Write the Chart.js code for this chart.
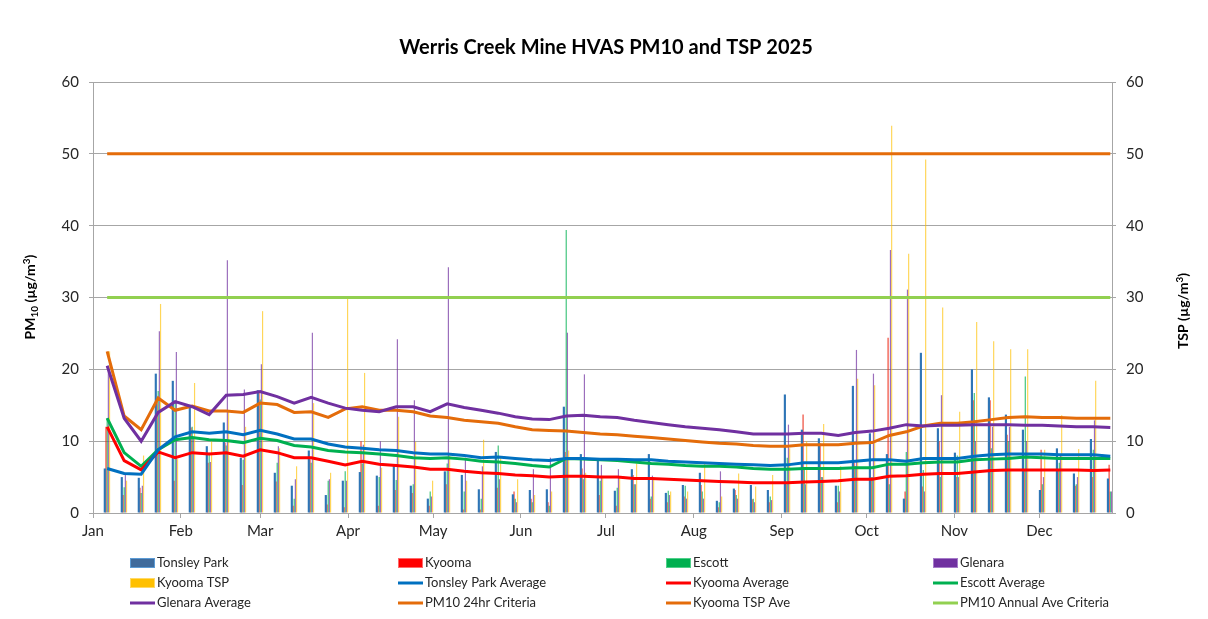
<!DOCTYPE html>
<html>
<head>
<meta charset="utf-8">
<script src="https://cdn.jsdelivr.net/npm/chart.js@4.4.1/dist/chart.umd.min.js"></script>
<style>
  html, body { margin: 0; padding: 0; background: #fff; }
  #wrap { width: 1208px; height: 619px; position: relative; }
</style>
</head>
<body>
<div id="wrap"><canvas id="chart"></canvas></div>
<script>
// Sample days (6-day HVAS cycle)
const sampleDates = [
  '2025-01-06', '2025-01-12', '2025-01-18', '2025-01-24', '2025-01-30', '2025-02-05', '2025-02-11', '2025-02-17', '2025-02-23', '2025-03-01',
  '2025-03-07', '2025-03-13', '2025-03-19', '2025-03-25', '2025-03-31', '2025-04-06', '2025-04-12', '2025-04-18', '2025-04-24', '2025-04-30',
  '2025-05-06', '2025-05-12', '2025-05-18', '2025-05-24', '2025-05-30', '2025-06-05', '2025-06-11', '2025-06-17', '2025-06-23', '2025-06-29',
  '2025-07-05', '2025-07-11', '2025-07-17', '2025-07-23', '2025-07-29', '2025-08-04', '2025-08-10', '2025-08-16', '2025-08-22', '2025-08-28',
  '2025-09-03', '2025-09-09', '2025-09-15', '2025-09-21', '2025-09-27', '2025-10-03', '2025-10-09', '2025-10-15', '2025-10-21', '2025-10-27',
  '2025-11-02', '2025-11-08', '2025-11-14', '2025-11-20', '2025-11-26', '2025-12-02', '2025-12-08', '2025-12-14', '2025-12-20', '2025-12-26'
];
const monthLabels = ['Jan', 'Feb', 'Mar', 'Apr', 'May', 'Jun', 'Jul', 'Aug', 'Sep', 'Oct', 'Nov', 'Dec'];
const yTicks = [0, 10, 20, 30, 40, 50, 60];

// PM10 daily results (ug/m3)
const tonsleyPark = [6.2, 5.0, 4.9, 19.4, 18.4, 14.7, 9.3, 12.6, 7.7, 17.1,
  5.6, 3.8, 8.7, 2.5, 4.5, 5.7, 5.2, 6.8, 3.8, 2.0,
  5.8, 5.3, 3.3, 8.5, 2.6, 3.2, 3.3, 14.8, 8.2, 7.4,
  3.1, 6.1, 8.2, 2.8, 3.9, 5.6, 1.7, 3.4, 3.9, 3.2,
  16.5, 11.6, 10.4, 3.8, 17.7, 11.1, 8.2, 2.0, 22.3, 11.8,
  8.4, 20.0, 16.1, 13.7, 11.6, 3.2, 9.0, 5.5, 10.3, 4.8];
const kyooma = [12.0, 2.5, 3.5, 15.5, 4.5, 11.9, 7.0, 9.8, 3.9, 17.0,
  4.4, 1.0, 7.5, 1.2, 0.8, 10.0, 1.0, 3.2, 2.8, 1.0,
  4.0, 0.5, 0.5, 3.5, 3.0, 2.0, 1.5, 8.5, 6.2, 2.5,
  1.0, 5.3, 2.0, 1.5, 2.3, 3.9, 0.8, 3.2, 1.9, 1.5,
  4.0, 13.7, 9.7, 1.5, 7.0, 5.0, 24.4, 3.0, 3.7, 10.0,
  5.0, 15.7, 15.7, 10.9, 6.0, 8.8, 6.0, 3.8, 5.0, 6.7];
const escott = [13.2, 3.6, 2.8, 17.0, 15.5, 12.0, 8.4, 9.4, 7.4, 15.8,
  7.0, 2.0, 7.0, 4.5, 5.8, 6.9, 5.0, 4.6, 4.0, 3.0,
  6.9, 3.0, 2.0, 9.4, 2.0, 1.5, 1.0, 39.4, 4.7, 4.5,
  3.5, 4.0, 2.3, 3.1, 3.8, 3.0, 1.5, 2.5, 2.0, 2.3,
  7.7, 6.0, 5.0, 3.8, 6.5, 5.0, 4.0, 8.5, 6.0, 5.0,
  8.0, 16.7, 9.0, 10.0, 19.0, 4.0, 7.0, 4.0, 8.8, 3.0];
const glenara = [20.5, 5.5, 3.8, 25.3, 22.4, 10.5, 7.1, 35.2, 17.2, 20.7,
  9.3, 4.7, 25.1, 4.7, 4.5, 9.5, 10.0, 24.2, 15.7, 2.3,
  34.2, 7.7, 6.5, 4.7, 1.5, 6.1, 7.7, 25.1, 19.3, 6.7,
  6.1, 4.0, 5.2, 2.5, 2.0, 2.0, 5.8, 2.0, 1.5, 1.8,
  12.3, 4.0, 5.0, 3.0, 22.7, 19.4, 36.6, 31.1, 3.0, 16.4,
  5.0, 10.0, 12.0, 12.0, 10.0, 5.0, 8.0, 5.0, 12.9, 3.0];
// TSP daily results (ug/m3)
const kyoomaTsp = [22.5, 4.5, 8.0, 29.1, 7.5, 18.1, 10.0, 14.2, 12.0, 28.1,
  9.0, 6.5, 15.3, 5.6, 29.8, 19.5, 6.3, 13.4, 9.9, 4.5,
  8.0, 4.5, 10.2, 7.9, 4.7, 2.5, 3.0, 8.7, 5.6, 5.2,
  5.0, 6.9, 5.0, 3.0, 3.0, 6.9, 2.3, 5.5, 3.7, 5.3,
  9.0, 10.0, 12.4, 6.5, 18.7, 17.8, 53.9, 36.1, 49.2, 28.6,
  14.1, 26.6, 23.9, 22.8, 22.8, 8.8, 13.6, 8.9, 18.4, 6.0];

// Running averages as plotted
const tonsleyParkAvg = [6.2, 5.5, 5.4, 8.8, 10.6, 11.3, 11.1, 11.3, 10.9, 11.5,
  11.0, 10.3, 10.3, 9.6, 9.2, 9.0, 8.8, 8.7, 8.4, 8.2,
  8.2, 8.0, 7.7, 7.8, 7.6, 7.4, 7.3, 7.6, 7.6, 7.5,
  7.5, 7.4, 7.4, 7.2, 7.1, 7.0, 6.9, 6.8, 6.7, 6.6,
  6.7, 7.0, 7.0, 7.0, 7.2, 7.4, 7.4, 7.2, 7.6, 7.6,
  7.6, 7.9, 8.1, 8.2, 8.2, 8.2, 8.1, 8.1, 8.1, 7.9];
const kyoomaAvg = [12.0, 7.3, 6.0, 8.5, 7.7, 8.4, 8.2, 8.4, 7.9, 8.8,
  8.4, 7.7, 7.7, 7.2, 6.7, 7.2, 6.8, 6.6, 6.4, 6.1,
  6.1, 5.8, 5.6, 5.5, 5.3, 5.2, 5.0, 5.1, 5.1, 5.0,
  5.0, 4.8, 4.8, 4.7, 4.6, 4.5, 4.4, 4.3, 4.2, 4.2,
  4.2, 4.3, 4.4, 4.5, 4.7, 4.7, 5.1, 5.2, 5.4, 5.5,
  5.5, 5.7, 5.9, 6.0, 6.0, 6.0, 6.0, 6.0, 5.9, 6.0];
const escottAvg = [13.2, 8.4, 6.5, 8.8, 10.2, 10.5, 10.2, 10.1, 9.8, 10.4,
  10.1, 9.4, 9.2, 8.7, 8.5, 8.4, 8.2, 8.0, 7.7, 7.6,
  7.7, 7.5, 7.2, 7.1, 6.9, 6.6, 6.4, 7.6, 7.5, 7.4,
  7.3, 7.1, 6.9, 6.8, 6.6, 6.5, 6.5, 6.4, 6.2, 6.1,
  6.1, 6.2, 6.2, 6.2, 6.3, 6.3, 6.8, 6.8, 7.0, 7.1,
  7.1, 7.4, 7.5, 7.6, 7.8, 7.7, 7.6, 7.6, 7.6, 7.6];
const glenaraAvg = [20.5, 13.2, 10.0, 14.0, 15.5, 14.8, 13.7, 16.4, 16.5, 16.9,
  16.2, 15.3, 16.1, 15.3, 14.6, 14.3, 14.1, 14.8, 14.8, 14.1,
  15.2, 14.7, 14.3, 13.9, 13.4, 13.1, 13.0, 13.5, 13.6, 13.4,
  13.3, 12.9, 12.6, 12.3, 12.0, 11.8, 11.6, 11.3, 11.0, 11.0,
  11.0, 11.1, 11.1, 10.8, 11.2, 11.4, 11.8, 12.3, 12.1, 12.2,
  12.2, 12.3, 12.3, 12.3, 12.2, 12.2, 12.1, 12.0, 12.0, 11.9];
const kyoomaTspAvg = [22.5, 13.5, 11.6, 16.0, 14.3, 14.9, 14.2, 14.2, 14.0, 15.3,
  15.1, 14.0, 14.1, 13.3, 14.5, 14.8, 14.3, 14.3, 14.1, 13.5,
  13.3, 12.9, 12.7, 12.5, 12.0, 11.6, 11.5, 11.4, 11.2, 11.0,
  10.9, 10.7, 10.5, 10.3, 10.1, 9.9, 9.7, 9.6, 9.4, 9.3,
  9.3, 9.5, 9.5, 9.5, 9.7, 9.8, 10.8, 11.3, 12.1, 12.5,
  12.5, 12.7, 13.0, 13.3, 13.4, 13.3, 13.3, 13.2, 13.2, 13.2];

// Criteria lines span first to last sample
const criteriaDates = ['2025-01-06', '2025-12-26'];
const pm10Criteria24hr = [50, 50];
const pm10AnnualCriteria = [30, 30];

function dayOfYear(iso) {
  return (Date.parse(iso + 'T00:00:00Z') - Date.UTC(2025, 0, 1)) / 86400000;
}
const sampleDays = sampleDates.map(dayOfYear);
const criteriaDays = criteriaDates.map(dayOfYear);
const monthStarts = monthLabels.map((m, i) => (Date.UTC(2025, i, 1) - Date.UTC(2025, 0, 1)) / 86400000);

function toPoints(values, days) {
  return values.map((v, i) => ({ x: days[i], y: v }));
}

const FONT = 'Lato, "Liberation Sans", sans-serif';

function barSet(label, values, color, legendFill, legendBorder, axis, pct) {
  return {
    type: 'bar', label: label, data: toPoints(values, sampleDays),
    backgroundColor: color, borderWidth: 0, yAxisID: axis, order: 2,
    categoryPercentage: 0.35, barPercentage: pct,
    legendFill: legendFill, legendBorder: legendBorder
  };
}
function lineSet(label, values, days, color, axis) {
  return {
    type: 'line', label: label, data: toPoints(values, days),
    borderColor: color, backgroundColor: color, borderWidth: 3,
    pointRadius: 0, pointHoverRadius: 0, tension: 0, fill: false,
    yAxisID: axis, order: 1
  };
}

const datasets = [
  barSet('Tonsley Park', tonsleyPark, '#2e75b6', '#3f6b9c', '#5b9bd5', 'y', 1.8),
  barSet('Kyooma', kyooma, 'rgba(235,40,20,0.85)', '#ff0000', '#ff6a6a', 'y', 1),
  barSet('Escott', escott, 'rgba(0,176,80,0.75)', '#00b050', '#4fd08a', 'y', 1),
  barSet('Glenara', glenara, 'rgba(112,48,160,0.7)', '#7030a0', '#a67bc9', 'y', 1),
  barSet('Kyooma TSP', kyoomaTsp, 'rgba(255,192,0,0.65)', '#ffc000', '#ffd966', 'y1', 1),
  lineSet('Tonsley Park Average', tonsleyParkAvg, sampleDays, '#0070c0', 'y'),
  lineSet('Kyooma Average', kyoomaAvg, sampleDays, '#ff0000', 'y'),
  lineSet('Escott Average', escottAvg, sampleDays, '#00b050', 'y'),
  lineSet('Glenara Average', glenaraAvg, sampleDays, '#7030a0', 'y'),
  lineSet('PM10 24hr Criteria', pm10Criteria24hr, criteriaDays, '#e46c0a', 'y'),
  lineSet('Kyooma TSP Ave', kyoomaTspAvg, sampleDays, '#e46c0a', 'y1'),
  lineSet('PM10 Annual Ave Criteria', pm10AnnualCriteria, criteriaDays, '#92d050', 'y')
];

// draws mixed-size text runs (for subscripts / superscripts)
function drawRuns(ctx, runs, x, y) {
  let total = 0;
  runs.forEach(r => { ctx.font = 'bold ' + r[1] + 'px ' + FONT; total += ctx.measureText(r[0]).width; });
  let cx = x - total / 2;
  runs.forEach(r => {
    ctx.font = 'bold ' + r[1] + 'px ' + FONT;
    ctx.fillText(r[0], cx, y + r[2]);
    cx += ctx.measureText(r[0]).width;
  });
}

const decorations = {
  id: 'decorations',
  afterDraw(chart) {
    const ctx = chart.ctx;
    ctx.save();
    ctx.fillStyle = '#000';
    ctx.textBaseline = 'alphabetic';
    ctx.textAlign = 'center';
    ctx.font = 'bold 20px ' + FONT;
    ctx.fillText('Werris Creek Mine HVAS PM10 and TSP 2025', 606, 54);

    ctx.textAlign = 'left';
    ctx.save();
    ctx.translate(35, 297);
    ctx.rotate(-Math.PI / 2);
    drawRuns(ctx, [['PM', 14, 0], ['10', 10, 3], [' (µg/m', 14, 0], ['3', 10, -5], [')', 14, 0]], 0, 0);
    ctx.restore();
    ctx.save();
    ctx.translate(1188, 311);
    ctx.rotate(-Math.PI / 2);
    drawRuns(ctx, [['TSP (µg/m', 14, 0], ['3', 10, -5], [')', 14, 0]], 0, 0);
    ctx.restore();

    // legend laid out as a 4-column grid
    const colX = [130, 398, 666, 933];
    const rowY = [563, 583, 603];
    ctx.font = '13px ' + FONT;
    ctx.textBaseline = 'middle';
    chart.data.datasets.forEach((ds, i) => {
      const x = colX[i % 4];
      const y = rowY[Math.floor(i / 4)];
      if (ds.type === 'bar') {
        ctx.fillStyle = ds.legendFill;
        ctx.fillRect(x, y - 5, 25, 10);
        ctx.strokeStyle = ds.legendBorder;
        ctx.lineWidth = 1;
        ctx.strokeRect(x + 0.5, y - 4.5, 24, 9);
      } else {
        ctx.strokeStyle = ds.borderColor;
        ctx.lineWidth = 3;
        ctx.beginPath();
        ctx.moveTo(x, y);
        ctx.lineTo(x + 25, y);
        ctx.stroke();
      }
      ctx.fillStyle = '#262626';
      ctx.fillText(ds.label, x + 27, y);
    });
    ctx.restore();
  }
};

const tickFont = { family: FONT, size: 15 };
const gridGray = '#a6a6a6';

new Chart(document.getElementById('chart'), {
  type: 'bar',
  data: { datasets: datasets },
  options: {
    responsive: true,
    maintainAspectRatio: false,
    animation: false,
    events: [],
    layout: { padding: { top: 82, left: 0, right: 0, bottom: 0 } },
    plugins: { legend: { display: false }, tooltip: { enabled: false }, title: { display: false } },
    scales: {
      x: {
        type: 'linear', min: 0, max: 359.6, offset: false,
        afterBuildTicks(scale) { scale.ticks = monthStarts.map(v => ({ value: v })); },
        ticks: { callback: (v, i) => monthLabels[i], autoSkip: false, maxRotation: 0, font: tickFont, color: '#262626', padding: 4 },
        grid: { drawOnChartArea: false, drawTicks: true, tickLength: 5, color: gridGray, offset: false },
        border: { color: gridGray },
        afterFit(scale) { scale.height = 106; }
      },
      y: {
        position: 'left', min: 0, max: 60,
        afterBuildTicks(scale) { scale.ticks = yTicks.map(v => ({ value: v })); },
        ticks: { font: tickFont, color: '#262626', padding: 10 },
        grid: { color: gridGray, tickLength: 4 },
        border: { color: gridGray },
        afterFit(scale) { scale.width = 93; }
      },
      y1: {
        position: 'right', min: 0, max: 60,
        afterBuildTicks(scale) { scale.ticks = yTicks.map(v => ({ value: v })); },
        ticks: { font: tickFont, color: '#262626', padding: 10 },
        grid: { drawOnChartArea: false, color: gridGray, tickLength: 4 },
        border: { color: gridGray },
        afterFit(scale) { scale.width = 96; }
      }
    }
  },
  plugins: [decorations]
});
</script>
</body>
</html>
